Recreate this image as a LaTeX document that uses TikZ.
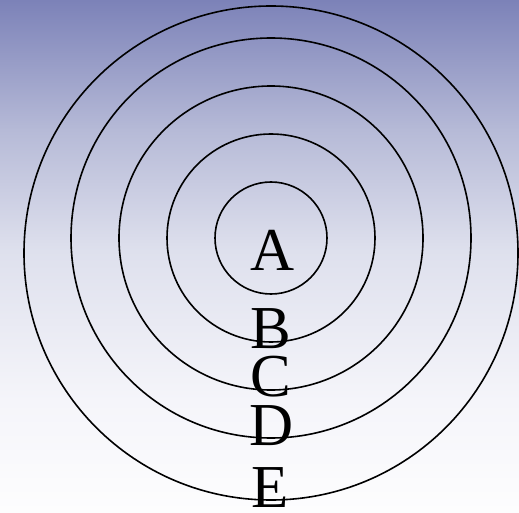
\documentclass[tikz,border=0pt]{standalone}
\usepackage{fontspec}
\setmainfont{Liberation Serif}
\definecolor{bgA}{RGB}{124,130,184}
\definecolor{bgB}{RGB}{182,186,215}
\definecolor{bgC}{RGB}{222,224,237}
\definecolor{bgD}{RGB}{245,245,250}
\definecolor{bgE}{RGB}{253,253,254}
\begin{document}
\begin{tikzpicture}[x=1pt,y=-1pt,
  ring/.style={draw=black,line width=1.6pt,circle,inner sep=0pt,outer sep=0pt,minimum size=#1},
  lbl/.style={anchor=base,inner sep=0pt,font=\fontsize{61}{61}\selectfont}]
\useasboundingbox (0,0) rectangle (519,513);
\shade[top color=bgA,bottom color=bgB] (0,0) rectangle (519,130.5);
\shade[top color=bgB,bottom color=bgC] (0,130) rectangle (519,250.5);
\shade[top color=bgC,bottom color=bgD] (0,250) rectangle (519,400.5);
\shade[top color=bgD,bottom color=bgE] (0,400) rectangle (519,513);
\node[ring=494pt] (cE) at (271,253) {};
\node[ring=400pt] (cD) at (271,238) {};
\node[ring=304pt] (cC) at (271,238) {};
\node[ring=208pt] (cB) at (271,238) {};
\node[ring=112pt] (cA) at (271,238) {};
\node[lbl] (lA) at (273,270) {A};
\node[lbl] (lB) at (271,348) {B};
\node[lbl] (lC) at (271,396) {C};
\node[lbl] (lD) at (272,445) {D};
\node[lbl] (lE) at (270,507) {E};
\end{tikzpicture}
\end{document}
